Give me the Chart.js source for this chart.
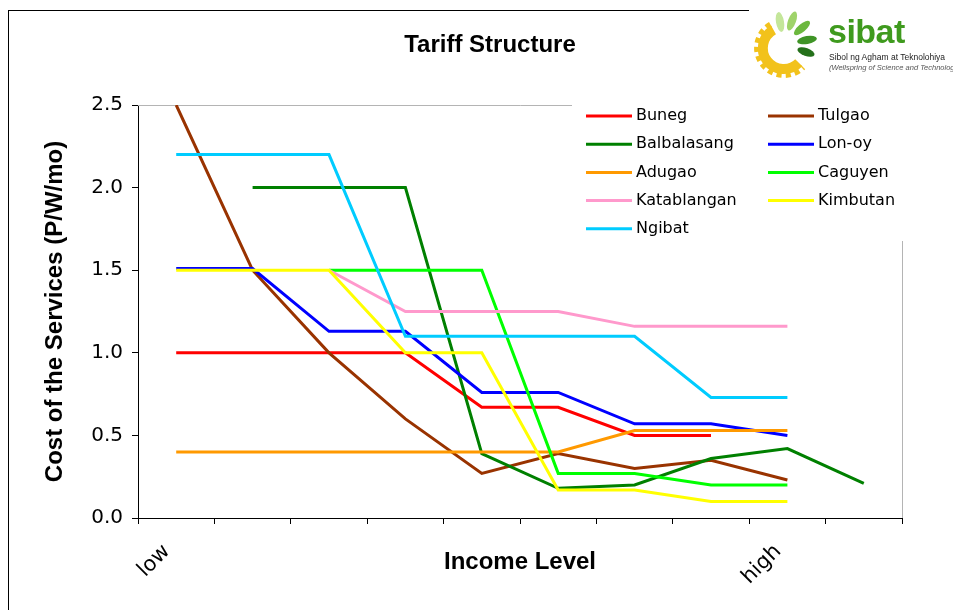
<!DOCTYPE html>
<html>
<head>
<meta charset="utf-8">
<script src="https://cdn.jsdelivr.net/npm/chart.js@4.4.1/dist/chart.umd.min.js"></script>
<style>
  body { margin: 0; background: #fff; }
  #wrap { position: relative; width: 953px; height: 610px; overflow: hidden; }
  #frame { position: absolute; left: 8px; top: 10px; width: 740px; height: 610px;
           border-left: 1.5px solid #000; border-top: 1.5px solid #000; }
  #title { position: absolute; left: 0; top: 30px; width: 980px; text-align: center;
           font: bold 24px "Liberation Sans", Arial, sans-serif; line-height: 28px; color: #000; }
  #logo { position: absolute; left: 752px; top: 8px; width: 200px; height: 72px; }
  #logo svg { position: absolute; left: 0; top: 0; }
  #logo .name { position: absolute; left: 76px; top: 4px; font: bold 34px "Liberation Sans", Arial, sans-serif;
                color: #3f9a1e; letter-spacing: -0.5px; }
  #logo .sub1 { position: absolute; left: 77px; top: 44px; font: 8.5px "Liberation Sans", Arial, sans-serif;
                color: #222; white-space: nowrap; }
  #logo .sub2 { position: absolute; left: 77px; top: 55px; font: italic 7.5px "Liberation Sans", Arial, sans-serif;
                color: #555; white-space: nowrap; }
</style>
</head>
<body>
<div id="wrap">
  <canvas id="chart" width="953" height="610"></canvas>
  <div id="frame"></div>
  <div id="title">Tariff Structure</div>
  <div id="logo">
    <svg width="74" height="74" viewBox="0 0 74 74">
      <path d="M21.5 21.8 A21 21 0 1 0 46.8 54.8" fill="none" stroke="#f2c21b" stroke-width="10"/>
      <path d="M18.5 16.6 A27 27 0 1 0 51.1 59.1" fill="none" stroke="#f2c21b" stroke-width="6" stroke-dasharray="5 4"/>
      <ellipse cx="28" cy="14" rx="4" ry="10" fill="#c4e69a" transform="rotate(-10 28 14)"/>
      <ellipse cx="40" cy="13" rx="4" ry="10" fill="#9fd36a" transform="rotate(20 40 13)"/>
      <ellipse cx="50" cy="20" rx="4" ry="10" fill="#6cb83e" transform="rotate(50 50 20)"/>
      <ellipse cx="55" cy="32" rx="4" ry="10" fill="#3f9426" transform="rotate(80 55 32)"/>
      <ellipse cx="54" cy="44" rx="4" ry="9" fill="#24701a" transform="rotate(110 54 44)"/>
    </svg>
    <div class="name">sibat</div>
    <div class="sub1">Sibol ng Agham at Teknolohiya</div>
    <div class="sub2">(Wellspring of Science and Technology)</div>
  </div>
</div>
<script>
// income level categories (only the two ends are labelled)
const incomeLevels = ['low', '', '', '', '', '', '', '', 'high', ''];

// cost of the services, P/W/mo, read per income level
const buneg       = [1.0, 1.0, 1.0, 1.0, 0.67, 0.67, 0.5, 0.5, null, null];
const tulgao      = [2.5, 1.5, 1.0, 0.6, 0.27, 0.39, 0.3, 0.35, 0.23, null];
const balbalasang = [null, 2.0, 2.0, 2.0, 0.39, 0.18, 0.2, 0.36, 0.42, 0.21];
const lonoy       = [1.51, 1.51, 1.13, 1.13, 0.76, 0.76, 0.57, 0.57, 0.5, null];
const adugao      = [0.4, 0.4, 0.4, 0.4, 0.4, 0.4, 0.53, 0.53, 0.53, null];
const caguyen     = [null, null, 1.5, 1.5, 1.5, 0.27, 0.27, 0.2, 0.2, null];
const katablangan = [null, null, 1.5, 1.25, 1.25, 1.25, 1.16, 1.16, 1.16, null];
const kimbutan    = [1.5, 1.5, 1.5, 1.0, 1.0, 0.17, 0.17, 0.1, 0.1, null];
const ngibat      = [2.2, 2.2, 2.2, 1.1, 1.1, 1.1, 1.1, 0.73, 0.73, null];

const seriesNames  = ['Buneg', 'Tulgao', 'Balbalasang', 'Lon-oy', 'Adugao', 'Caguyen', 'Katablangan', 'Kimbutan', 'Ngibat'];
const seriesValues = [buneg, tulgao, balbalasang, lonoy, adugao, caguyen, katablangan, kimbutan, ngibat];
const seriesColors = ['#ff0000', '#993300', '#008000', '#0000ff', '#ff9900', '#00ff00', '#ff99cc', '#ffff00', '#00ccff'];

const yTicks = [0, 0.5, 1.0, 1.5, 2.0, 2.5];

// grey plot border (top and right), partly hidden by the legend box
const plotBorder = {
    id: 'plotBorder',
    beforeDatasetsDraw(chart) {
        const { ctx, chartArea: a } = chart;
        ctx.save();
        ctx.strokeStyle = '#b4b4b4';
        ctx.lineWidth = 1;
        ctx.beginPath();
        ctx.moveTo(a.left, a.top + 0.5);
        ctx.lineTo(a.right + 0.5, a.top + 0.5);
        ctx.lineTo(a.right + 0.5, a.bottom);
        ctx.stroke();
        ctx.restore();
    }
};

// two column legend sitting inside the plot, top right
const boxLegend = {
    id: 'boxLegend',
    afterDatasetsDraw(chart) {
        const { ctx } = chart;
        ctx.save();
        ctx.fillStyle = '#fff';
        ctx.fillRect(572, 95, 340, 146);
        ctx.font = '16px "DejaVu Sans"';
        ctx.textBaseline = 'middle';
        chart.data.datasets.forEach((ds, i) => {
            const x = i % 2 === 0 ? 586 : 768;
            const y = 116 + Math.floor(i / 2) * 28.2;
            ctx.strokeStyle = ds.borderColor;
            ctx.lineWidth = 3;
            ctx.beginPath();
            ctx.moveTo(x, y);
            ctx.lineTo(x + 46, y);
            ctx.stroke();
            ctx.fillStyle = '#000';
            ctx.fillText(ds.label, x + 50, y);
        });
        ctx.restore();
    }
};

new Chart(document.getElementById('chart'), {
    type: 'line',
    data: {
        labels: incomeLevels,
        datasets: seriesNames.map((name, i) => ({
            label: name,
            data: seriesValues[i],
            borderColor: seriesColors[i],
            backgroundColor: seriesColors[i],
            borderWidth: 3,
            pointRadius: 0,
            tension: 0,
            fill: false,
            order: -i,
        }))
    },
    options: {
        responsive: false,
        animation: false,
        layout: { padding: { top: 105, right: 51, left: 0, bottom: 0 } },
        plugins: {
            legend: { display: false },
            tooltip: { enabled: false },
        },
        scales: {
            x: {
                type: 'category',
                offset: true,
                afterFit: (scale) => { scale.height = 92; },
                grid: { offset: true, drawOnChartArea: false, tickLength: 6, color: '#000' },
                border: { color: '#000', width: 1 },
                ticks: {
                    autoSkip: false, minRotation: 45, maxRotation: 45, padding: 6,
                    color: '#000', font: { family: 'DejaVu Sans', size: 21 },
                    // trailing spaces push the slanted label down and left, under its tick
                    callback: (v, i) => incomeLevels[i] ? incomeLevels[i] + '  ' : '',
                },
                title: {
                    display: true, text: 'Income Level', color: '#000',
                    font: { family: 'Liberation Sans', size: 24, weight: 'bold' },
                    padding: { top: 0, bottom: 33 },
                },
            },
            y: {
                min: 0,
                max: 2.5,
                afterFit: (scale) => { scale.width = 138; },
                afterBuildTicks: (scale) => { scale.ticks = yTicks.map(v => ({ value: v })); },
                grid: { drawOnChartArea: false, tickLength: 6, color: '#000' },
                border: { color: '#000', width: 1 },
                ticks: {
                    padding: 9, color: '#000',
                    font: { family: 'DejaVu Sans', size: 20 },
                    callback: (v) => Number(v).toFixed(1),
                },
                title: {
                    display: true, text: 'Cost of the Services (P/W/mo)', color: '#000',
                    font: { family: 'Liberation Sans', size: 24, weight: 'bold' },
                    padding: { top: 41, bottom: 0 },
                },
            },
        },
    },
    plugins: [plotBorder, boxLegend],
});
</script>
</body>
</html>
